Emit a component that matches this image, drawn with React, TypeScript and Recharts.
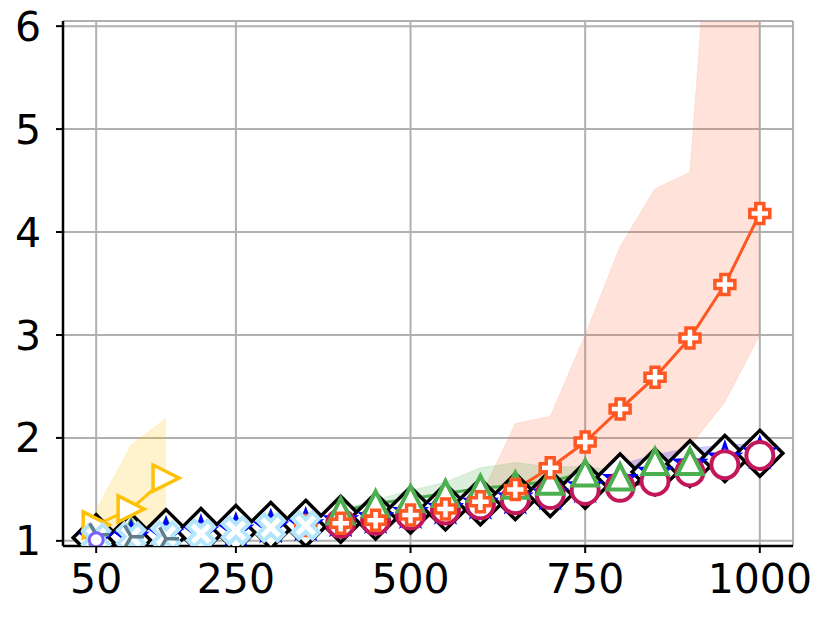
import React from "react";
import { ComposedChart, Line, Area, XAxis, YAxis, CartesianGrid } from "recharts";

// x positions
const xs = [50, 100, 150, 200, 250, 300, 350, 400, 450, 500, 550, 600, 650, 700, 750, 800, 850, 900, 950, 1000];
const xTicks = [50, 250, 500, 750, 1000];
const yTicks = [1, 2, 3, 4, 5, 6];

// black diamonds (50..1000)
const blackDiamond = [1.03, 1.04, 1.08, 1.09, 1.12, 1.15, 1.17, 1.21, 1.24, 1.3, 1.33, 1.38, 1.43, 1.46, 1.54, 1.62, 1.67, 1.75, 1.8, 1.85];
// blue stars, dotted (50..1000)
const blueStar = [1.02, 1.03, 1.06, 1.08, 1.1, 1.13, 1.15, 1.19, 1.22, 1.27, 1.31, 1.36, 1.41, 1.45, 1.52, 1.59, 1.66, 1.74, 1.8, 1.85];
const blueBandX = [550, 600, 650, 700, 750, 800, 850, 900, 950, 1000];
const blueBandLo = [1.28, 1.33, 1.38, 1.42, 1.48, 1.55, 1.62, 1.7, 1.75, 1.8];
const blueBandHi = [1.35, 1.4, 1.46, 1.52, 1.62, 1.74, 1.84, 1.9, 1.93, 1.95];
// crimson circles (400..1000)
const crimsonX = [400, 450, 500, 550, 600, 650, 700, 750, 800, 850, 900, 950, 1000];
const crimson = [1.17, 1.2, 1.25, 1.3, 1.35, 1.4, 1.45, 1.49, 1.52, 1.58, 1.67, 1.74, 1.83];
// green triangles (400..900)
const greenX = [400, 450, 500, 550, 600, 650, 700, 750, 800, 850, 900];
const green = [1.29, 1.36, 1.41, 1.46, 1.51, 1.54, 1.58, 1.66, 1.62, 1.77, 1.77];
const greenBandLo = [1.22, 1.28, 1.33, 1.38, 1.42, 1.46, 1.5, 1.55, 1.56, 1.66, 1.7];
const greenBandHi = [1.3, 1.4, 1.49, 1.57, 1.71, 1.76, 1.72, 1.72, 1.68, 1.8, 1.8];
// red plus (350..1000)
const redX = [350, 400, 450, 500, 550, 600, 650, 700, 750, 800, 850, 900, 950, 1000];
const red = [1.15, 1.17, 1.2, 1.25, 1.31, 1.38, 1.5, 1.71, 1.96, 2.28, 2.59, 2.97, 3.49, 4.18];
const redBandX = [400, 450, 500, 550, 600, 650, 700, 750, 800, 850, 900, 950, 1000];
const redBandLo = [1.14, 1.16, 1.2, 1.25, 1.3, 1.38, 1.42, 1.48, 1.58, 1.75, 1.92, 2.35, 3.0];
const redBandHi = [1.2, 1.24, 1.3, 1.36, 1.42, 2.14, 2.21, 3.0, 3.86, 4.42, 4.58, 9.2, 10.0];
// amber right triangles (50..150)
const amberX = [50, 100, 150];
const amber = [1.155, 1.31, 1.61];
const amberBandLo = [1.05, 1.08, 1.12];
const amberBandHi = [1.3, 1.93, 2.19];
// light blue X (50..350)
const skyX = [50, 100, 150, 200, 250, 300, 350];
const sky = [1.03, 1.04, 1.05, 1.07, 1.1, 1.13, 1.15];
// slate tri markers (50..150)
const slateX = [50, 100, 150];
const slate = [1.06, 1.04, 1.02];
// purple circle (50)
const purpleX = [50];
const purple = [1.01];
// small marker hints inside diamonds (100..350)
const smallX = [100, 150, 200, 250, 300, 350];
const smallGreen = [1.19, 1.2, 1.2, 1.23, 1.27, 1.28];
const smallOrange = [1.1, 1.1, 1.11, 1.13, 1.16, 1.18];

const pick = (xArr: number[], vals: number[], x: number) => {
  const i = xArr.indexOf(x);
  return i >= 0 ? vals[i] : null;
};
const pickBand = (xArr: number[], lo: number[], hi: number[], x: number) => {
  const i = xArr.indexOf(x);
  return i >= 0 ? [lo[i], hi[i]] : null;
};

const rows = xs.map((x, i) => ({
  x,
  black: blackDiamond[i],
  blue: blueStar[i],
  blueBand: pickBand(blueBandX, blueBandLo, blueBandHi, x),
  crimson: pick(crimsonX, crimson, x),
  green: pick(greenX, green, x),
  greenBand: pickBand(greenX, greenBandLo, greenBandHi, x),
  red: pick(redX, red, x),
  redBand: pickBand(redBandX, redBandLo, redBandHi, x),
  amber: pick(amberX, amber, x),
  amberBand: pickBand(amberX, amberBandLo, amberBandHi, x),
  sky: pick(skyX, sky, x),
  slate: pick(slateX, slate, x),
  purple: pick(purpleX, purple, x),
  smallGreen: pick(smallX, smallGreen, x),
  smallOrange: pick(smallX, smallOrange, x),
}));

const ok = (p: any) => p && p.cx != null && p.cy != null && p.value != null && !Number.isNaN(p.cy);

const diamond = (p: any) => {
  if (!ok(p)) return <g key={p.key ?? p.index} />;
  const { cx, cy } = p;
  const s = 23;
  return (
    <path key={p.key ?? p.index} d={`M${cx},${cy - s}L${cx + s},${cy}L${cx},${cy + s}L${cx - s},${cy}Z`} fill="#fff" stroke="#000" strokeWidth={3.5} />
  );
};
const star = (p: any) => {
  if (!ok(p)) return <g key={p.key ?? p.index} />;
  const { cx, cy } = p;
  const R = 15, r = 6;
  const pts: string[] = [];
  for (let k = 0; k < 10; k++) {
    const a = -Math.PI / 2 + (k * Math.PI) / 5;
    const rr = k % 2 === 0 ? R : r;
    pts.push(`${cx + rr * Math.cos(a)},${cy + rr * Math.sin(a)}`);
  }
  return <polygon key={p.key ?? p.index} points={pts.join(" ")} fill="#fff" stroke="#0000ff" strokeWidth={3} />;
};
const circle = (r: number, color: string, sw: number) => (p: any) => {
  if (!ok(p)) return <g key={p.key ?? p.index} />;
  return <circle key={p.key ?? p.index} cx={p.cx} cy={p.cy} r={r} fill="#fff" stroke={color} strokeWidth={sw} />;
};
const triUp = (p: any) => {
  if (!ok(p)) return <g key={p.key ?? p.index} />;
  const { cx, cy } = p;
  const s = 12.5;
  return (
    <path key={p.key ?? p.index} d={`M${cx},${cy - s}L${cx + s},${cy + s}L${cx - s},${cy + s}Z`} fill="#fff" stroke="#4caf50" strokeWidth={4} />
  );
};
const triRight = (p: any) => {
  if (!ok(p)) return <g key={p.key ?? p.index} />;
  const { cx, cy } = p;
  const s = 13;
  return (
    <path key={p.key ?? p.index} d={`M${cx + s},${cy}L${cx - s},${cy - s}L${cx - s},${cy + s}Z`} fill="#fff" stroke="#ffc107" strokeWidth={3.5} />
  );
};
const plus = (p: any) => {
  if (!ok(p)) return <g key={p.key ?? p.index} />;
  const { cx, cy } = p;
  const a = 4, b = 10;
  const d = `M${cx - a},${cy - b}H${cx + a}V${cy - a}H${cx + b}V${cy + a}H${cx + a}V${cy + b}H${cx - a}V${cy + a}H${cx - b}V${cy - a}H${cx - a}Z`;
  return <path key={p.key ?? p.index} d={d} fill="#fff" stroke="#ff5722" strokeWidth={3.5} strokeLinejoin="miter" />;
};
const xMark = (p: any) => {
  if (!ok(p)) return <g key={p.key ?? p.index} />;
  const { cx, cy } = p;
  const w = 4.5, L = 14;
  const pts: string[] = [];
  const base = [
    [-w, -L], [w, -L], [w, -w], [L, -w], [L, w], [w, w], [w, L], [-w, L], [-w, w], [-L, w], [-L, -w], [-w, -w],
  ];
  const c = Math.SQRT1_2;
  for (const [x, y] of base) {
    pts.push(`${cx + (x - y) * c},${cy + (x + y) * c}`);
  }
  return <polygon key={p.key ?? p.index} points={pts.join(" ")} fill="#fff" stroke="#b3e5fc" strokeWidth={4} />;
};
const triMark = (p: any) => {
  if (!ok(p)) return <g key={p.key ?? p.index} />;
  const { cx, cy } = p;
  const s = 13;
  return (
    <path key={p.key ?? p.index} d={`M${cx},${cy}L${cx + s},${cy}M${cx},${cy}L${cx - s * 0.5},${cy - s * 0.87}M${cx},${cy}L${cx - s * 0.5},${cy + s * 0.87}`} stroke="#607d8b" strokeWidth={3.5} fill="none" />
  );
};
const smallTri = (p: any) => {
  if (!ok(p)) return <g key={p.key ?? p.index} />;
  const { cx, cy } = p;
  const s = 5;
  return <path key={p.key ?? p.index} d={`M${cx},${cy - s}L${cx + s},${cy + s}L${cx - s},${cy + s}Z`} fill="#4caf50" stroke="none" />;
};
const smallDot = (p: any) => {
  if (!ok(p)) return <g key={p.key ?? p.index} />;
  return <ellipse key={p.key ?? p.index} cx={p.cx} cy={p.cy} rx={6} ry={3.5} fill="#ff5722" />;
};

const tickStyle = { fontFamily: "DejaVu Sans", fontSize: 41, fill: "#000" };

export default function App() {
  return (
    <div style={{ position: "absolute", left: 0, top: 0, background: "#fff" }}>
      <ComposedChart width={830} height={622} data={rows} margin={{ top: 21, right: 37, left: 0, bottom: 0 }}>
        <CartesianGrid stroke="#b0b0b0" strokeWidth={2} />
        <XAxis
          dataKey="x"
          type="number"
          domain={[2.5, 1047.5]}
          ticks={xTicks}
          allowDataOverflow
          height={76}
          tick={tickStyle}
          tickSize={7}
          tickMargin={11}
          stroke="#000"
          axisLine={{ stroke: "#000", strokeWidth: 2.5 }}
          tickLine={{ stroke: "#000", strokeWidth: 2 }}
        />
        <XAxis xAxisId="top" orientation="top" type="number" domain={[2.5, 1047.5]} height={0} tick={false} tickLine={false} axisLine={{ stroke: "#000", strokeWidth: 2.5 }} />
        <YAxis
          type="number"
          domain={[0.95, 6.05]}
          ticks={yTicks}
          allowDataOverflow
          width={63}
          tick={tickStyle}
          tickSize={7}
          tickMargin={15}
          axisLine={{ stroke: "#000", strokeWidth: 2.5 }}
          tickLine={{ stroke: "#000", strokeWidth: 2 }}
        />
        <YAxis yAxisId="right" orientation="right" type="number" domain={[0, 1]} width={0} tick={false} tickLine={false} axisLine={{ stroke: "#000", strokeWidth: 2.5 }} />

        <Area dataKey="amberBand" stroke="#ffc107" strokeOpacity={0.15} fill="#ffc107" fillOpacity={0.2} isAnimationActive={false} />
        <Area dataKey="redBand" stroke="#ff5722" strokeOpacity={0.12} fill="#ff5722" fillOpacity={0.17} isAnimationActive={false} />
        <Area dataKey="greenBand" stroke="#4caf50" strokeOpacity={0.15} fill="#4caf50" fillOpacity={0.2} isAnimationActive={false} />
        <Area dataKey="blueBand" stroke="#0000ff" strokeOpacity={0.12} fill="#0000ff" fillOpacity={0.2} isAnimationActive={false} />

        <Line dataKey="black" stroke="#000" strokeWidth={2.5} dot={diamond} activeDot={false} isAnimationActive={false} />
        <Line dataKey="smallOrange" stroke="none" dot={smallDot} activeDot={false} isAnimationActive={false} />
        <Line dataKey="smallGreen" stroke="none" dot={smallTri} activeDot={false} isAnimationActive={false} />
        <Line dataKey="blue" stroke="#0000ff" strokeWidth={3} strokeDasharray="3 4" dot={star} activeDot={false} isAnimationActive={false} />
        <Line dataKey="crimson" stroke="#c2185b" strokeWidth={3} dot={circle(13.5, "#c2185b", 4)} activeDot={false} isAnimationActive={false} />
        <Line dataKey="green" stroke="#4caf50" strokeWidth={3} dot={triUp} activeDot={false} isAnimationActive={false} />
        <Line dataKey="red" stroke="#ff5722" strokeWidth={3} dot={plus} activeDot={false} isAnimationActive={false} />
        <Line dataKey="amber" stroke="#ffc107" strokeWidth={3} dot={triRight} activeDot={false} isAnimationActive={false} />
        <Line dataKey="sky" stroke="#b3e5fc" strokeWidth={3} dot={xMark} activeDot={false} isAnimationActive={false} />
        <Line dataKey="slate" stroke="#607d8b" strokeWidth={3.5} dot={triMark} activeDot={false} isAnimationActive={false} />
        <Line dataKey="purple" stroke="#7b61ff" strokeWidth={3} dot={circle(7, "#7b61ff", 3)} activeDot={false} isAnimationActive={false} />
      </ComposedChart>
    </div>
  );
}
